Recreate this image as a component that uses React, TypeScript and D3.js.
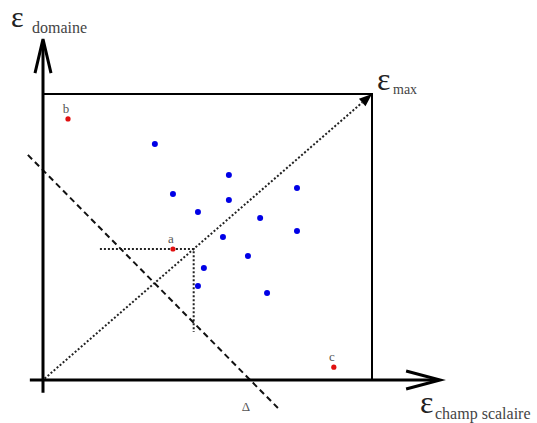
import React from "react";
import * as d3 from "d3";

// Data (units: percent of ε_max on each axis)
const blueX = [34.0, 39.5, 47.1, 56.5, 56.5, 77.2, 66.0, 77.2, 54.7, 62.3, 48.9, 47.1, 68.1];
const blueY = [82.5, 65.0, 58.7, 71.7, 62.9, 67.1, 56.6, 52.1, 50.0, 43.4, 39.2, 32.9, 30.4];
const redLabels = ["a", "b", "c"];
const redX = [39.5, 7.6, 88.4];
const redY = [45.8, 91.3, 4.5];
const deltaX = [-4.6, 71.4];
const deltaY = [78.7, -9.8];
const projX = [17.3, 45.8, 45.8];
const projY = [45.8, 45.8, 16.8];
const axisXRange = [-4, 120.7];
const axisYRange = [-4.5, 119.2];
const emax = 100;

const W = 537;
const H = 423;

export default function App() {
  const x = d3.scaleLinear().domain([0, 100]).range([43, 372]);
  const y = d3.scaleLinear().domain([0, 100]).range([380, 94]);
  const line = d3.line<[number, number]>().x((d) => x(d[0])).y((d) => y(d[1]));

  const font = "Liberation Serif, Times New Roman, Tinos, DejaVu Serif, serif";
  const fs = (size: number, fill: string) => ({ fontFamily: font, fontSize: size, fill });

  // arrow heads
  const xTip = x(axisXRange[1]);
  const yTip = y(axisYRange[1]);
  const diagTip: [number, number] = [x(emax), y(emax)];
  const ang = Math.atan2(diagTip[1] - y(0), diagTip[0] - x(0));
  const hl = 13, hw = 5;
  const bx = diagTip[0] - hl * Math.cos(ang);
  const by = diagTip[1] - hl * Math.sin(ang);
  const px = -Math.sin(ang) * hw, py = Math.cos(ang) * hw;
  const diagHead = `M${diagTip[0]},${diagTip[1]} L${bx + px},${by + py} L${bx - px},${by - py} Z`;

  return (
    <svg
      width={W}
      height={H}
      style={{ position: "fixed", left: 0, top: 0, background: "#fff" }}
    >
      {/* box */}
      <path
        d={line([[0, emax], [emax, emax], [emax, 0]])!}
        fill="none"
        stroke="#000"
        strokeWidth={2}
      />
      {/* diagonal dotted */}
      <path
        d={line([[0.5, 0.5], [emax - 3, emax - 3]])!}
        fill="none"
        stroke="#222"
        strokeWidth={2}
        strokeDasharray="2,2"
      />
      <path d={diagHead} fill="#000" />
      {/* projection of a */}
      <path
        d={line(projX.map((v, i) => [v, projY[i]] as [number, number]))!}
        fill="none"
        stroke="#222"
        strokeWidth={2}
        strokeDasharray="2,2"
      />
      {/* Delta dashed line */}
      <path
        d={line(deltaX.map((v, i) => [v, deltaY[i]] as [number, number]))!}
        fill="none"
        stroke="#111"
        strokeWidth={2}
        strokeDasharray="6,4"
      />
      {/* axes */}
      <line x1={x(axisXRange[0])} y1={y(0)} x2={xTip - 2} y2={y(0)} stroke="#000" strokeWidth={3} />
      <line x1={x(0)} y1={y(axisYRange[0])} x2={x(0)} y2={yTip + 2} stroke="#000" strokeWidth={3} />
      <path
        d={`M${xTip - 34},${y(0) - 9} L${xTip},${y(0)} L${xTip - 34},${y(0) + 9}`}
        fill="none"
        stroke="#000"
        strokeWidth={3}
      />
      <path
        d={`M${x(0) - 8},${yTip + 34} L${x(0)},${yTip} L${x(0) + 8},${yTip + 34}`}
        fill="none"
        stroke="#000"
        strokeWidth={3}
      />
      {/* points */}
      {blueX.map((v, i) => (
        <circle key={"b" + i} cx={x(v)} cy={y(blueY[i])} r={3} fill="#0000e6" />
      ))}
      {redX.map((v, i) => (
        <g key={"r" + i}>
          <circle cx={x(v)} cy={y(redY[i])} r={2.6} fill="#e01010" />
          <text x={x(v) - 2} y={y(redY[i]) - 6} style={fs(13, "#555")} textAnchor="middle">
            {redLabels[i]}
          </text>
        </g>
      ))}
      {/* labels */}
      <text x={246} y={411} style={fs(13, "#555")} textAnchor="middle">Δ</text>
      <text x={11} y={27} style={fs(30, "#222")}>ε</text>
      <text x={32} y={33} style={fs(16, "#444")}>domaine</text>
      <text x={377} y={90} style={fs(32, "#222")}>ε</text>
      <text x={393} y={94} style={fs(14, "#444")}>max</text>
      <text x={420} y={413} style={fs(32, "#222")}>ε</text>
      <text x={435} y={419} style={fs(16, "#444")}>champ scalaire</text>
    </svg>
  );
}
